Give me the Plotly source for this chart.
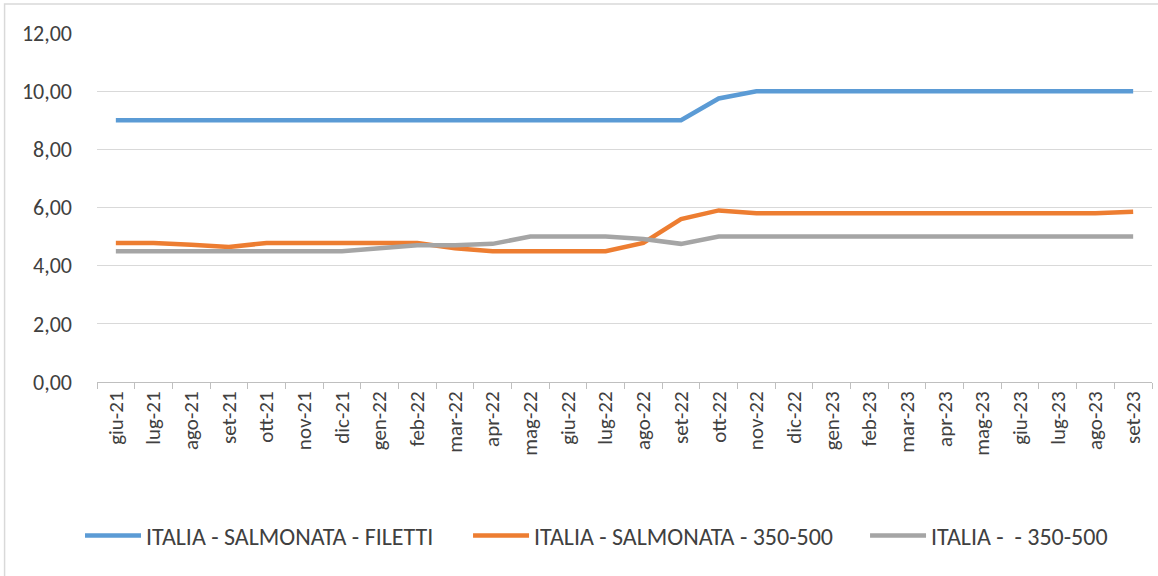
import plotly.graph_objects as go

# month labels (Italian, as in the source)
months = ['giu-21', 'lug-21', 'ago-21', 'set-21', 'ott-21', 'nov-21', 'dic-21',
          'gen-22', 'feb-22', 'mar-22', 'apr-22', 'mag-22', 'giu-22', 'lug-22',
          'ago-22', 'set-22', 'ott-22', 'nov-22', 'dic-22', 'gen-23', 'feb-23',
          'mar-23', 'apr-23', 'mag-23', 'giu-23', 'lug-23', 'ago-23', 'set-23']

filetti = [9.0, 9.0, 9.0, 9.0, 9.0, 9.0, 9.0,
           9.0, 9.0, 9.0, 9.0, 9.0, 9.0, 9.0,
           9.0, 9.0, 9.75, 10.0, 10.0, 10.0, 10.0,
           10.0, 10.0, 10.0, 10.0, 10.0, 10.0, 10.0]

salmonata_350_500 = [4.78, 4.78, 4.72, 4.64, 4.78, 4.78, 4.78,
                     4.78, 4.78, 4.6, 4.5, 4.5, 4.5, 4.5,
                     4.78, 5.6, 5.9, 5.8, 5.8, 5.8, 5.8,
                     5.8, 5.8, 5.8, 5.8, 5.8, 5.8, 5.85]

italia_350_500 = [4.5, 4.5, 4.5, 4.5, 4.5, 4.5, 4.5,
                  4.6, 4.7, 4.7, 4.75, 5.0, 5.0, 5.0,
                  4.92, 4.75, 5.0, 5.0, 5.0, 5.0, 5.0,
                  5.0, 5.0, 5.0, 5.0, 5.0, 5.0, 5.0]

series_names = ['ITALIA - SALMONATA - FILETTI',
                'ITALIA - SALMONATA - 350-500',
                'ITALIA -  - 350-500']
colors = ['#5B9BD5', '#ED7D31', '#A5A5A5']

font_family = 'Carlito, Lato, sans-serif'

fig = go.Figure()

# one legend per series so each entry can sit where Excel put it
legend_ids = ['legend', 'legend2', 'legend3']
legend_x = [-0.0161, 0.3517, 0.728]

for name, values, color, leg in zip(series_names,
                                    [filetti, salmonata_350_500, italia_350_500],
                                    colors, legend_ids):
    fig.add_trace(go.Scatter(
        x=months,
        y=values,
        mode='lines',
        name=name,
        line=dict(color=color, width=4.5),
        legend=leg,
    ))

# light chart border (top/left visible in the crop)
fig.add_shape(type='rect', xref='paper', yref='paper',
              x0=-0.0876, x1=1.01, y0=-0.57, y1=1.083,
              line=dict(color='#d9d9d9', width=1.5), layer='below')

legend_style = dict(
    orientation='h',
    xanchor='left',
    y=-0.441, yanchor='middle',
    font=dict(size=24, color='#404040'),
    itemwidth=56,
    bgcolor='rgba(0,0,0,0)',
)

fig.update_layout(
    width=1158,
    height=576,
    margin=dict(l=97, r=6, t=33, b=194),
    paper_bgcolor='white',
    plot_bgcolor='white',
    separators=',.',
    font=dict(family=font_family, size=22, color='#404040'),
    showlegend=True,
    legend=dict(x=legend_x[0], **legend_style),
    legend2=dict(x=legend_x[1], **legend_style),
    legend3=dict(x=legend_x[2], **legend_style),
    xaxis=dict(
        type='category',
        range=[-0.5, len(months) - 0.5],
        showgrid=False,
        showline=True,
        linecolor='#bfbfbf',
        linewidth=1,
        ticks='outside',
        tickson='boundaries',
        ticklen=6,
        tickcolor='#bfbfbf',
        tickangle=-90,
        tickfont=dict(size=21, color='#404040'),
    ),
    yaxis=dict(
        range=[0, 12],
        dtick=2,
        tickformat='.2f',
        showgrid=True,
        gridcolor='#d9d9d9',
        gridwidth=1,
        zeroline=False,
        showline=False,
        ticklabelstandoff=24,
        tickfont=dict(size=22, color='#404040'),
    ),
)

# drop the default page margin so the chart sits at the window origin
fig.write_html("out.html", config={'displayModeBar': False},
               post_script="document.body.style.margin='0';")
